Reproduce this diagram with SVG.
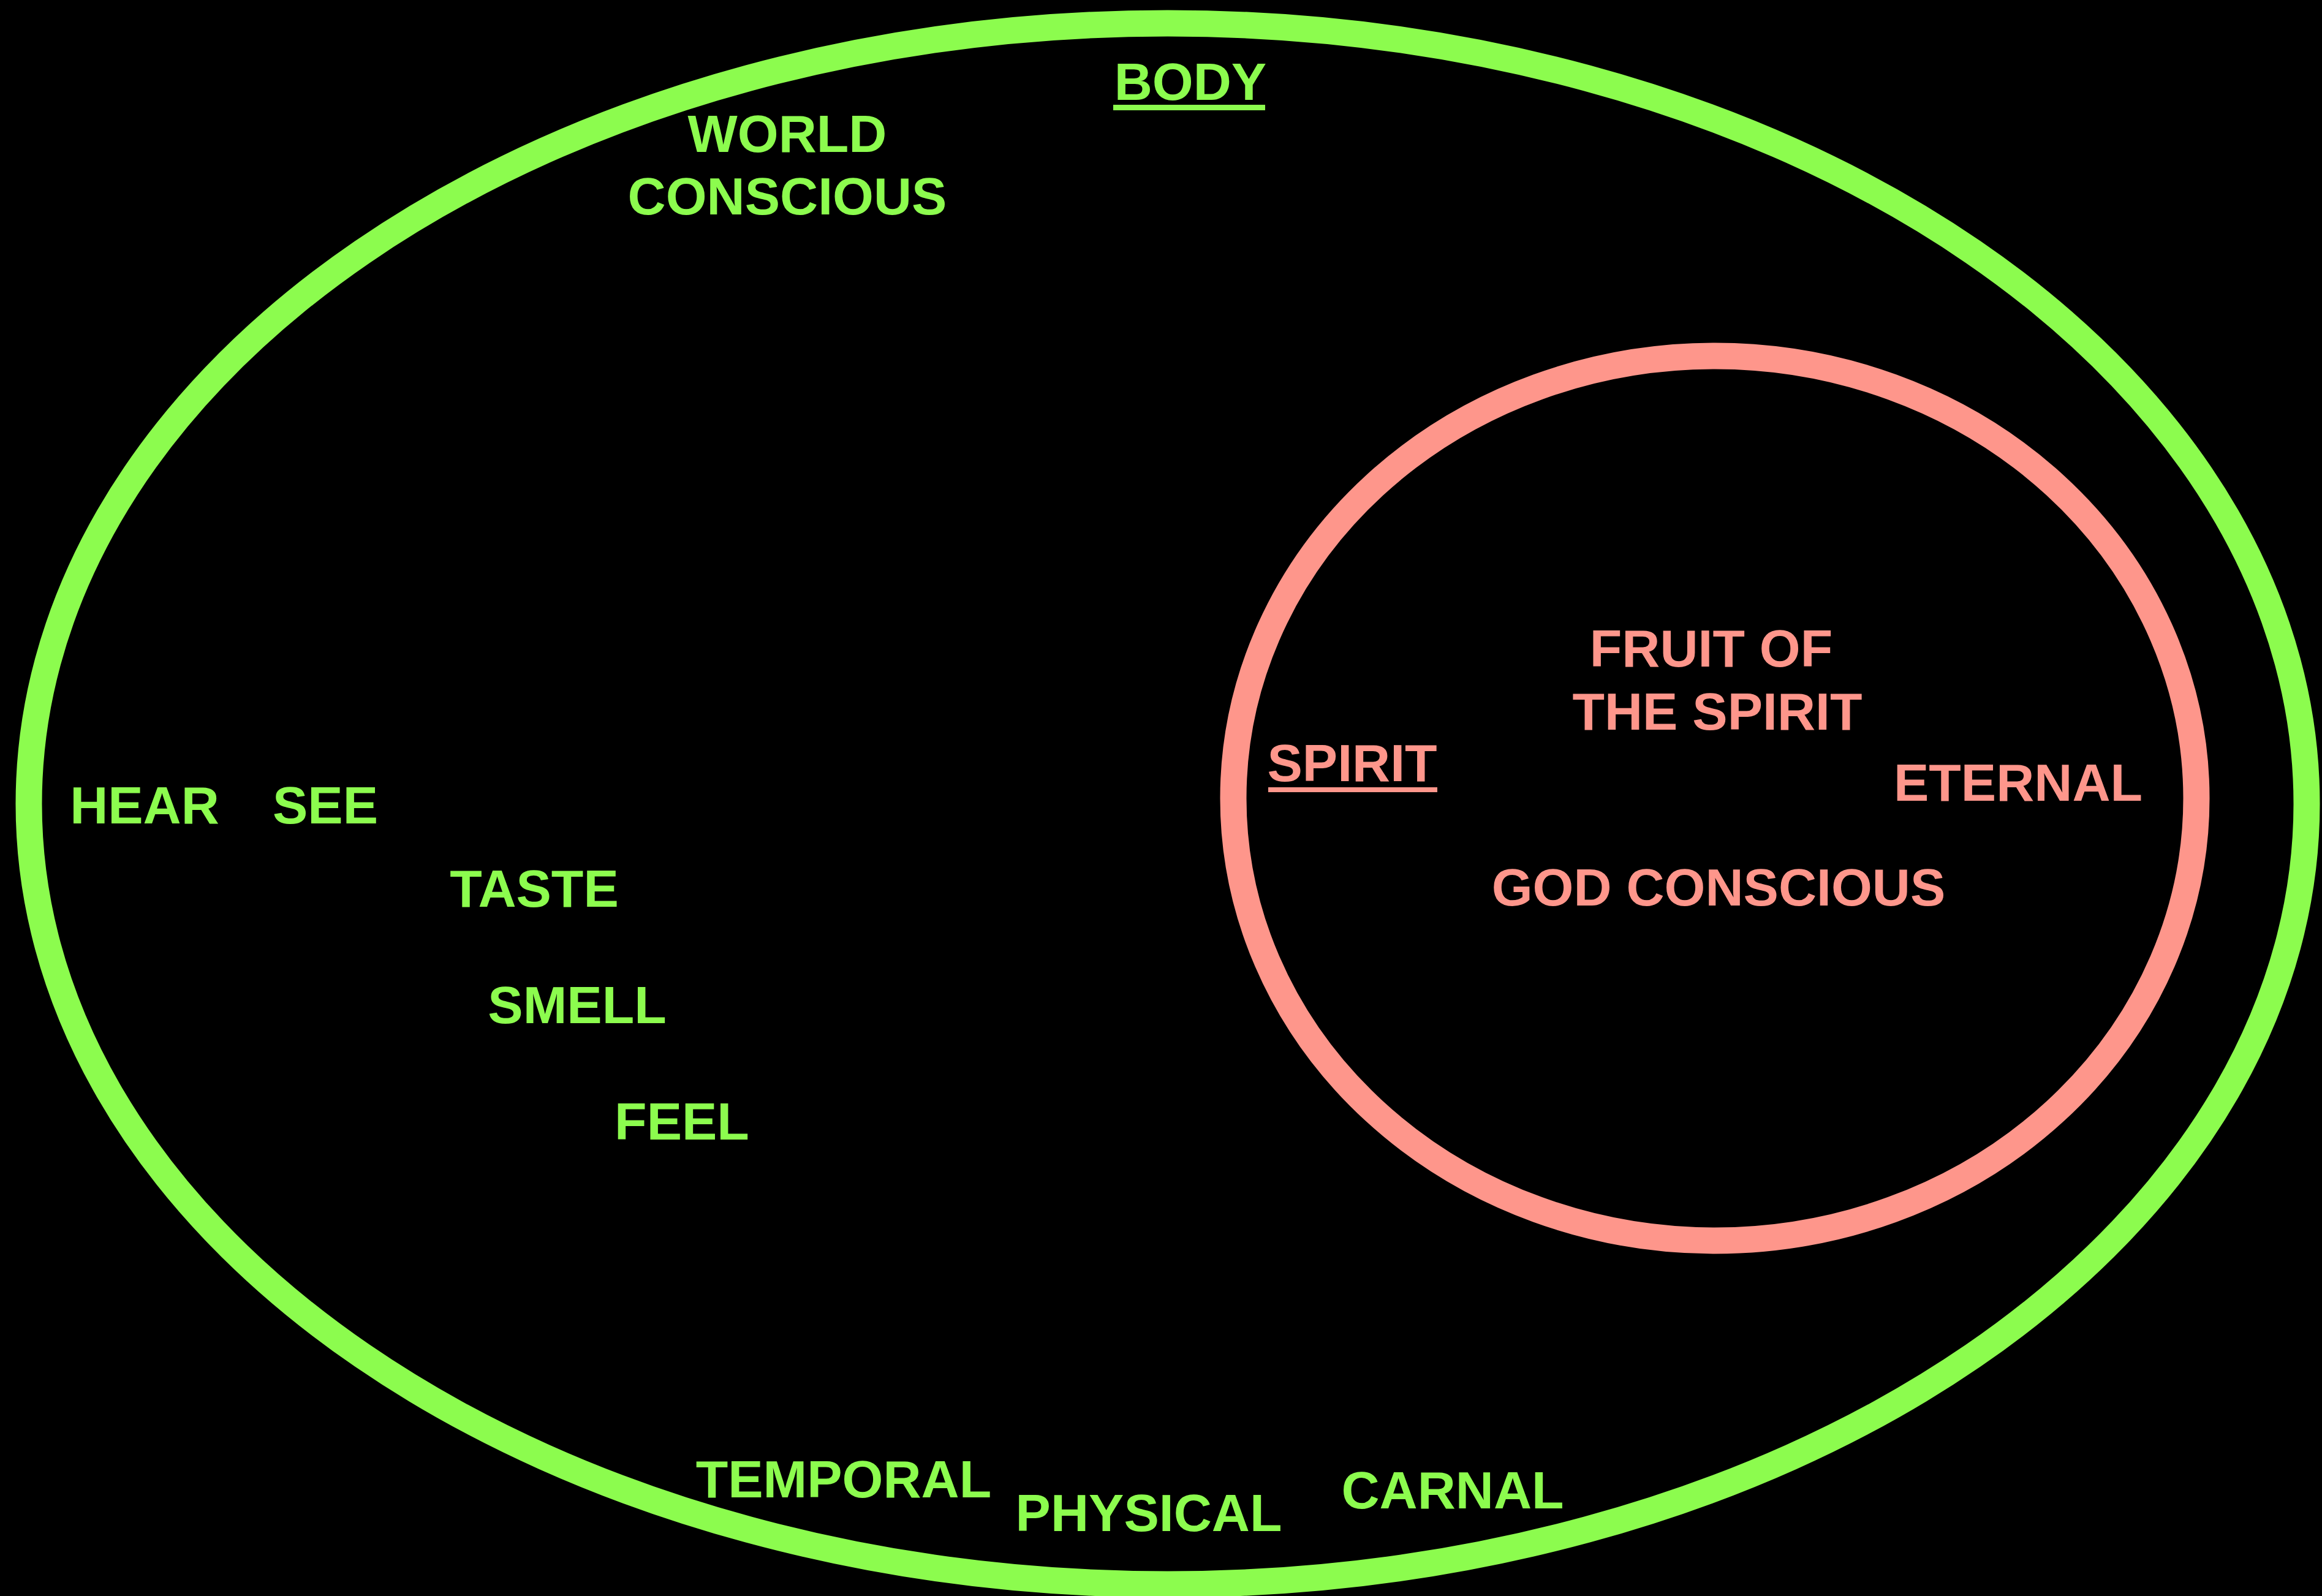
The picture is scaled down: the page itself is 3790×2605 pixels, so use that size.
<svg xmlns="http://www.w3.org/2000/svg" width="3790" height="2605" viewBox="0 0 3790 2605">
<style>
.t{font-family:"Liberation Sans",Arial,sans-serif;font-weight:bold;font-size:86px;text-anchor:middle}
.g{fill:#8CFC4E}
.p{fill:#FE968B}
</style>
<rect x="0" y="0" width="3790" height="2605" fill="#000000"/>
<g id="body">
<ellipse cx="1906" cy="1312" rx="1859" ry="1274" fill="none" stroke="#8CFC4E" stroke-width="43"/>
<text class="t g" x="1943" y="163">BODY</text>
<rect class="g" x="1817" y="171" width="248" height="9"/>
<text class="t g" x="1285" y="248">WORLD</text>
<text class="t g" x="1285" y="350">CONSCIOUS</text>
<text class="t g" x="236" y="1344">HEAR</text>
<text class="t g" x="531" y="1344">SEE</text>
<text class="t g" x="872" y="1480">TASTE</text>
<text class="t g" x="942" y="1670">SMELL</text>
<text class="t g" x="1113" y="1860">FEEL</text>
<text class="t g" x="1377" y="2444">TEMPORAL</text>
<text class="t g" x="1875" y="2499">PHYSICAL</text>
<text class="t g" x="2371" y="2462">CARNAL</text>
</g>
<g id="spirit">
<ellipse cx="2799" cy="1303" rx="786" ry="722" fill="none" stroke="#FE968B" stroke-width="43"/>
<text class="t p" x="2793" y="1088">FRUIT OF</text>
<text class="t p" x="2803" y="1191">THE SPIRIT</text>
<text class="t p" x="2207" y="1275">SPIRIT</text>
<rect class="p" x="2070" y="1285" width="276" height="8"/>
<text class="t p" x="3294" y="1307">ETERNAL</text>
<text class="t p" x="2805" y="1478">GOD CONSCIOUS</text>
</g>
<g id="connectors"></g>
</svg>
